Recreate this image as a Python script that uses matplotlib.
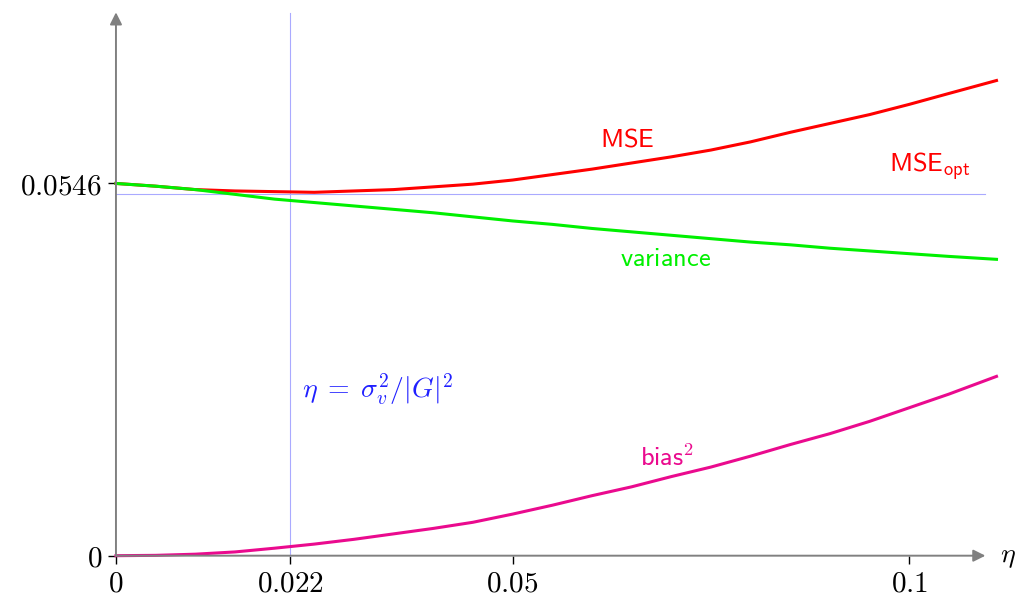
import numpy as np
import matplotlib
matplotlib.use("Agg")
from matplotlib import pyplot as plt

plt.rcParams['mathtext.fontset'] = 'cm'

# eta grid and curves
eta = [0, 0.005, 0.01, 0.015, 0.02, 0.025, 0.03, 0.035, 0.04, 0.045, 0.05, 0.055,
       0.06, 0.065, 0.07, 0.075, 0.08, 0.085, 0.09, 0.095, 0.1, 0.105, 0.111]
mse = [0.0546, 0.0542, 0.0537, 0.0535, 0.0534, 0.0533, 0.0535, 0.0537, 0.0541, 0.0545,
       0.0551, 0.0559, 0.0567, 0.0576, 0.0585, 0.0595, 0.0607, 0.0621, 0.0634, 0.0647,
       0.0662, 0.0678, 0.0697]
variance = [0.0546, 0.0542, 0.0537, 0.0530, 0.0523, 0.0518, 0.0513, 0.0508, 0.0503, 0.0497,
            0.0491, 0.0486, 0.0480, 0.0475, 0.0470, 0.0465, 0.0460, 0.0456, 0.0451, 0.0447,
            0.0443, 0.0439, 0.04347]
bias2 = [0, 0.00005, 0.00022, 0.00055, 0.0011, 0.0017, 0.0024, 0.0032, 0.0040, 0.0049,
         0.0061, 0.0074, 0.0088, 0.0101, 0.0116, 0.0130, 0.0146, 0.0163, 0.0179, 0.0197,
         0.0217, 0.0237, 0.0263]

eta_opt = 0.022
mse_opt = 0.0530
xticks = [0, 0.022, 0.05, 0.1]
xticklabels = ['$0$', '$0.022$', '$0.05$', '$0.1$']
yticks = [0, 0.0546]
yticklabels = ['$0$', '$0.0546$']

fig = plt.figure(figsize=(10.19, 5.97), dpi=100)
ax = fig.add_axes([0.1138, 0.0692, 0.868, 0.909])
ax.set_xlim(0, 0.1115)
ax.set_ylim(0, 0.0796)
for s in ax.spines.values():
    s.set_visible(False)

guide = '#aaaaff'
ax.plot([eta_opt, eta_opt], [0, 0.0796], color=guide, lw=0.8, clip_on=False)
ax.plot([0, 0.1096], [mse_opt, mse_opt], color=guide, lw=0.8)

ax.plot(eta, mse, color='#ff0000', lw=2.2, clip_on=False)
ax.plot(eta, variance, color='#00f000', lw=2.2, clip_on=False)
ax.plot(eta, bias2, color='#ea0a8e', lw=2.2, clip_on=False)

# axes with arrows
arr = dict(arrowstyle='-|>', color='#808080', lw=1.4, mutation_scale=18, shrinkA=0, shrinkB=0)
ax.annotate('', xy=(0.1096, 0), xytext=(0, 0), arrowprops=arr, annotation_clip=False)
ax.annotate('', xy=(0, 0.0797), xytext=(0, 0), arrowprops=arr, annotation_clip=False)

ax.set_xticks(xticks)
ax.set_xticklabels(xticklabels, fontsize=21)
ax.set_yticks(yticks)
ax.set_yticklabels(yticklabels, fontsize=21)
ax.tick_params(direction='out', length=6, width=1, color='black', pad=4)

ax.annotate(r'$\eta$', xy=(0.1115, 0), xytext=(0, 0), textcoords='offset points',
            fontsize=20, va='center', ha='left', annotation_clip=False)

ax.text(0.0610, 0.0600, r'$\mathsf{MSE}$', color='#ff0000', fontsize=19, ha='left', va='baseline')
ax.text(0.0974, 0.0564, r'$\mathsf{MSE}_{\mathsf{opt}}$', color='#ff0000', fontsize=19,
        ha='left', va='baseline')
ax.text(0.0636, 0.0425, r'$\mathsf{variance}$', color='#00f000', fontsize=19, ha='left', va='baseline')
ax.text(0.0660, 0.0131, r'$\mathsf{bias}^{\mathsf{2}}$', color='#ea0a8e', fontsize=19,
        ha='left', va='baseline')
ax.text(0.0234, 0.0232, r'$\eta\;=\;\sigma_v^2/|G|^2$', color='#2020ff', fontsize=20,
        ha='left', va='baseline')

fig.savefig('out.png', dpi=100)
